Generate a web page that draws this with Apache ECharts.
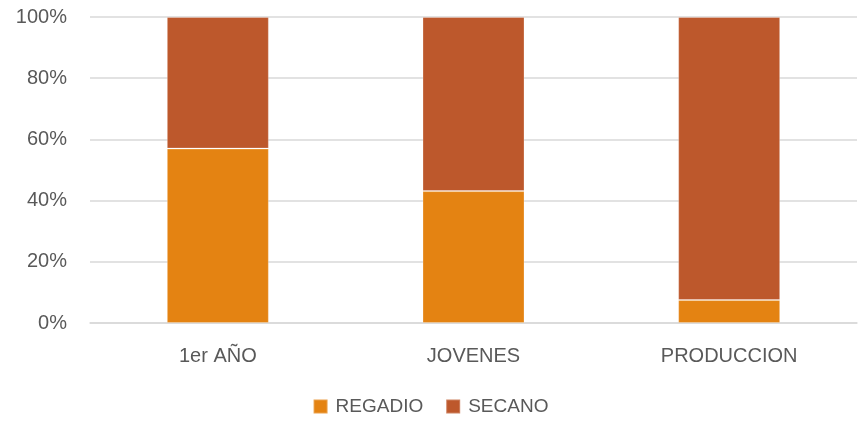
<!DOCTYPE html>
<html><head><meta charset="utf-8">
<script src="https://cdn.jsdelivr.net/npm/echarts@6/dist/echarts.min.js"></script>
<style>html,body{margin:0;padding:0;background:#fff}#c{width:861px;height:421px}</style>
</head><body><div id="c"></div>
<script>
const categories = ['1er AÑO', 'JOVENES', 'PRODUCCION'];
const regadio = [57.0, 43.1, 7.5];
const secano = [43.0, 56.9, 92.5];
const yTicks = [0, 20, 40, 60, 80, 100];

const chart = echarts.init(document.getElementById('c'));
const font = 'Liberation Sans';
chart.setOption({
  animation: false,
  textStyle: { fontFamily: font },
  grid: { left: 90, right: 4, top: 17, bottom: 98 },
  legend: {
    bottom: 0, left: 'center',
    itemWidth: 14, itemHeight: 14, itemGap: 22,
    icon: 'rect',
    textStyle: { fontSize: 19, color: '#595959', fontFamily: font, padding: [0, 0, 0, 3] },
    data: ['REGADIO', 'SECANO']
  },
  xAxis: {
    type: 'category', data: categories,
    axisLine: { show: true, lineStyle: { color: '#d9d9d9', width: 1.5 } },
    axisTick: { show: false },
    axisLabel: { fontSize: 20, color: '#595959', margin: 23 }
  },
  yAxis: {
    type: 'value', min: 0, max: 100, interval: 20,
    axisLabel: { fontSize: 20, color: '#595959', formatter: v => v + '%', margin: 23 },
    splitLine: { lineStyle: { color: '#d9d9d9', width: 1.5 } },
    axisLine: { show: false }, axisTick: { show: false }
  },
  series: [
    { name: 'REGADIO', type: 'bar', stack: 't', data: regadio, barWidth: 102,
      itemStyle: { color: '#E48312', borderColor: 'rgba(255,255,255,0.25)', borderWidth: 1 } },
    { name: 'SECANO', type: 'bar', stack: 't', data: secano, barWidth: 102,
      itemStyle: { color: '#BD582C', borderColor: 'rgba(255,255,255,0.25)', borderWidth: 1 } }
  ]
});
</script></body></html>
